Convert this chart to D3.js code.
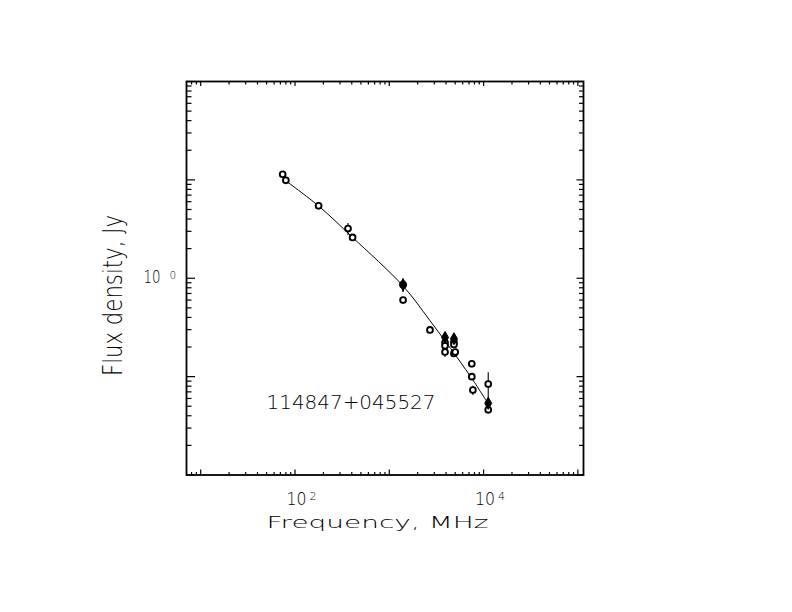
<!DOCTYPE html>
<html>
<head>
<meta charset="utf-8">
<script src="https://cdn.jsdelivr.net/npm/d3@7"></script>
<style>
  html, body { margin: 0; padding: 0; background: #fff; }
  svg text { font-family: 'DejaVu Sans', 'Liberation Sans', sans-serif; font-weight: 200; fill: #000; }
</style>
</head>
<body>
<svg id="chart" width="792" height="612"></svg>
<script>
// ---- data ----
const openFreq = [74, 80, 178, 365, 408, 1400, 1400, 2700, 3900, 3900, 3900, 4850, 4850, 4850, 5000, 7500, 7500, 7700, 11200, 11200];
const openFlux = [11.4, 9.9, 5.45, 3.2, 2.6, 0.86, 0.60, 0.298, 0.222, 0.206, 0.178, 0.226, 0.212, 0.172, 0.178, 0.135, 0.100, 0.073, 0.084, 0.046];
const openErr  = [0.6, 0, 0, 0.45, 0, 0.13, 0, 0, 0.01, 0, 0.02, 0.03, 0, 0, 0.01, 0.01, 0, 0.008, 0.027, 0];

const filledFreq = [1400, 3900, 4850, 11200];
const filledFlux = [0.86, 0.25, 0.243, 0.0536];
const filledErr  = [0.13, 0.025, 0.03, 0];

const fitFreq = [82, 177, 405, 1406, 2700, 7180, 11220];
const fitFlux = [9.6, 5.45, 2.62, 0.83, 0.371, 0.102, 0.0528];

const xLabelValues = [100, 10000];
const xLabelExps = ["2", "4"];
const yLabelValues = [1];
const yLabelExps = ["0"];

const sourceName = "114847+045527";
const xTitle = "Frequency, MHz";
const yTitle = "Flux density, Jy";

// ---- layout ----
const L = 186.5, R = 583.5, T = 81.5, B = 475;
const svg = d3.select("#chart");

const x = d3.scaleLog().domain([7.07, 114700]).range([L, R]);
const y = d3.scaleLog().domain([0.01, 100]).range([B, T]);

// tick values (decades with 2..9 minors)
function logTicks(scale) {
  const [a, b] = scale.domain();
  const out = [];
  for (let e = Math.floor(Math.log10(a)); e <= Math.ceil(Math.log10(b)); e++) {
    for (let m = 1; m <= 9; m++) {
      const v = m * Math.pow(10, e);
      if (v >= a * 0.999 && v <= b * 1.001) out.push({ v, major: m === 1 });
    }
  }
  return out;
}
const xt = logTicks(x), yt = logTicks(y);
const tk = svg.append("g").attr("stroke", "#000").attr("stroke-width", 1.2);

// bottom & top
xt.forEach(t => {
  const px = x(t.v);
  tk.append("line").attr("x1", px).attr("x2", px).attr("y1", B).attr("y2", B - (t.major ? 5.5 : 3));
  tk.append("line").attr("x1", px).attr("x2", px).attr("y1", T).attr("y2", T + (t.major ? 4.5 : 3));
});
// left & right
yt.forEach(t => {
  const py = y(t.v);
  tk.append("line").attr("y1", py).attr("y2", py).attr("x1", L).attr("x2", L + (t.major ? 8.5 : 5));
  tk.append("line").attr("y1", py).attr("y2", py).attr("x1", R).attr("x2", R - (t.major ? 7 : 4.5));
});

// frame
svg.append("rect").attr("x", L).attr("y", T).attr("width", R - L).attr("height", B - T)
  .attr("fill", "none").attr("stroke", "#000").attr("stroke-width", 1.8);

// tick labels
xLabelValues.forEach((v, i) => {
  const t = svg.append("text").attr("x", x(v) - 8.5).attr("y", 505).attr("font-size", 18);
  t.append("tspan").attr("textLength", 20).attr("lengthAdjust", "spacingAndGlyphs").text("10");
  t.append("tspan").attr("font-size", 11).attr("dx", 3).attr("dy", -5).text(xLabelExps[i]);
});
yLabelValues.forEach((v, i) => {
  const t = svg.append("text").attr("x", 143.5).attr("y", y(v) + 5).attr("font-size", 17);
  t.append("tspan").attr("textLength", 17).attr("lengthAdjust", "spacingAndGlyphs").text("10");
  t.append("tspan").attr("font-size", 10.5).attr("dx", 9).attr("dy", -4).text(yLabelExps[i]);
});

// axis titles
svg.append("text").attr("x", 266.5).attr("y", 527.5).attr("font-size", 16)
  .attr("textLength", 222).attr("lengthAdjust", "spacingAndGlyphs").text(xTitle);
svg.append("text").attr("transform", "translate(121.5,376) rotate(-90)").attr("font-size", 26)
  .attr("textLength", 161).attr("lengthAdjust", "spacingAndGlyphs").text(yTitle);

// source label
svg.append("text").attr("x", 266.5).attr("y", 409.3).attr("font-size", 19.6)
  .attr("textLength", 169).attr("lengthAdjust", "spacingAndGlyphs").text(sourceName);

// fitted spectrum line
const fit = fitFreq.map((f, i) => [f, fitFlux[i]]);
svg.append("path").datum(fit)
  .attr("d", d3.line().x(d => x(d[0])).y(d => y(d[1])).curve(d3.curveCatmullRom))
  .attr("fill", "none").attr("stroke", "#000").attr("stroke-width", 1);

// error bars
const eb = svg.append("g").attr("stroke", "#000").attr("stroke-width", 1.1);
function errBars(fs, ss, es) {
  fs.forEach((f, i) => {
    if (!es[i]) return;
    eb.append("line").attr("x1", x(f)).attr("x2", x(f))
      .attr("y1", y(ss[i] + es[i])).attr("y2", y(Math.max(ss[i] - es[i], 1e-3)));
  });
}
errBars(openFreq, openFlux, openErr);
errBars(filledFreq, filledFlux, filledErr);

// open markers
svg.append("g").selectAll("circle").data(openFreq.map((f, i) => [f, openFlux[i]]))
  .join("circle").attr("cx", d => x(d[0])).attr("cy", d => y(d[1])).attr("r", 2.9)
  .attr("fill", "#fff").attr("stroke", "#000").attr("stroke-width", 1.9);

// filled markers
svg.append("g").selectAll("path").data(filledFreq.map((f, i) => [f, filledFlux[i]]))
  .join("path").attr("transform", d => `translate(${x(d[0])},${y(d[1])})`)
  .attr("d", d3.symbol().type(d3.symbolDiamond).size(42))
  .attr("fill", "#000").attr("stroke", "#000").attr("stroke-width", 1);
</script>
</body>
</html>
